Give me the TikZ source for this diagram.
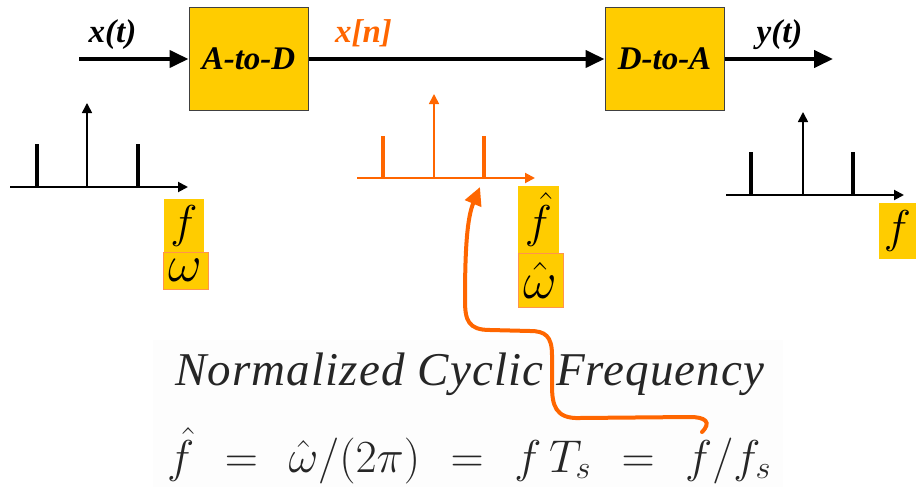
\RequirePackage{fix-cm}
\documentclass[tikz,border=0pt]{standalone}
\usepackage{fontspec}
\setmainfont{Liberation Serif}
\usetikzlibrary{arrows.meta}
\definecolor{dsporange}{HTML}{FF6600}
\definecolor{dspyellow}{HTML}{FFCC00}
\newcommand{\eqsp}{\hspace{5pt}}
\begin{document}
\begin{tikzpicture}[x=1pt,y=-1pt,
  sysbox/.style={draw=black!75,line width=1pt,fill=dspyellow,minimum width=119pt,minimum height=102pt,inner sep=0pt,font=\fontsize{33}{36}\selectfont\bfseries\itshape},
  sig/.style={line width=4pt,-{Triangle[length=19pt,width=17pt]}},
  siglabel/.style={anchor=base,inner sep=0pt,font=\fontsize{33}{36}\selectfont\bfseries\itshape},
  axis/.style={line width=2pt,-{Triangle[length=10pt,width=10pt]}},
  impulse/.style={line width=1.6pt,-{Triangle[length=10pt,width=10pt]}},
  bar/.style={line width=4pt},
  varbox/.style={fill=dspyellow,inner sep=0pt,font=\fontsize{46}{50}\selectfont},
  varboxo/.style={varbox,draw=dsporange!70,line width=1pt,font=\fontsize{52}{56}\selectfont}]
\useasboundingbox (0,0) rectangle (916,487);
\fill[black!0.8] (153,340) rectangle (783,487);
% system
\node[sysbox] (ad) at (248.5,59) {A-to-D};
\node[sysbox] (da) at (664.5,59) {D-to-A};
\coordinate (xin) at (79,59);
\coordinate (yout) at (833,59);
\draw[sig] (xin) -- (ad);
\draw[sig] (ad) -- (da);
\draw[sig] (da) -- (yout);
\node[siglabel] (lx) at (112.5,43) {x(t)};
\node[siglabel,text=dsporange] (ln) at (363.5,43) {x[n]};
\node[siglabel] (ly) at (779.5,43) {y(t)};
% left spectrum
\draw[axis] (10,187) -- (188,187);
\draw[impulse] (87,187) -- (87,103);
\draw[bar] (37,187) -- (37,144);
\draw[bar] (138,187) -- (138,144);
\node[varbox,minimum width=40pt,minimum height=53pt] (f1) at (184,225.5) {$f$};
\node[varboxo,minimum width=45pt,minimum height=37pt] (w1) at (185.5,270.5) {$\omega$};
% middle spectrum
\begin{scope}[dsporange]
\draw[axis] (357,178) -- (535,178);
\draw[impulse] (434,178) -- (434,94);
\draw[bar] (383,178) -- (383,136);
\draw[bar] (484,178) -- (484,136);
\end{scope}
\node[varbox,minimum width=41pt,minimum height=67pt] (f2) at (538.5,219.5) {$\hat{f}$};
\node[varboxo,minimum width=45pt,minimum height=54pt] (w2) at (540.5,280) {$\hat{\omega}$};
% right spectrum
\draw[axis] (726,195) -- (904,195);
\draw[impulse] (803,195) -- (803,112);
\draw[bar] (751,195) -- (751,152);
\draw[bar] (853,195) -- (853,152);
\node[varbox,minimum width=37pt,minimum height=56pt] (f3) at (897.5,231) {$f$};
% bottom text
\node[anchor=base west,inner sep=0pt,font=\fontsize{47}{50}\selectfont\itshape\addfontfeatures{LetterSpace=2.4},text=black!85] (title) at (175,385) {Normalized Cyclic Frequency};
\node[anchor=base west,inner sep=0pt,font=\fontsize{46}{50}\selectfont,text=black!85] (eq) at (167,472) {$\hat{f}\;\eqsp=\eqsp\;\hat{\omega}/(2\pi)\;\eqsp=\eqsp\;f\,T_s\;\eqsp=\eqsp\;f/f_s$};
% curvy arrow
\coordinate (cstart) at (702,432);
\coordinate (ctip) at (480,187);
\draw[dsporange,line width=4pt,line cap=round,-{Triangle[length=18pt,width=17pt]}]
  (cstart) .. controls (712,422) and (705,417) .. (690,417) -- (580,418)
  .. controls (555,419) and (552,405) .. (552,385) -- (552,355)
  .. controls (552,336) and (545,331) .. (530,331) -- (490,330)
  .. controls (468,330) and (465,320) .. (465,300)
  .. controls (465,250) and (467,218) .. (ctip);
\end{tikzpicture}
\end{document}
